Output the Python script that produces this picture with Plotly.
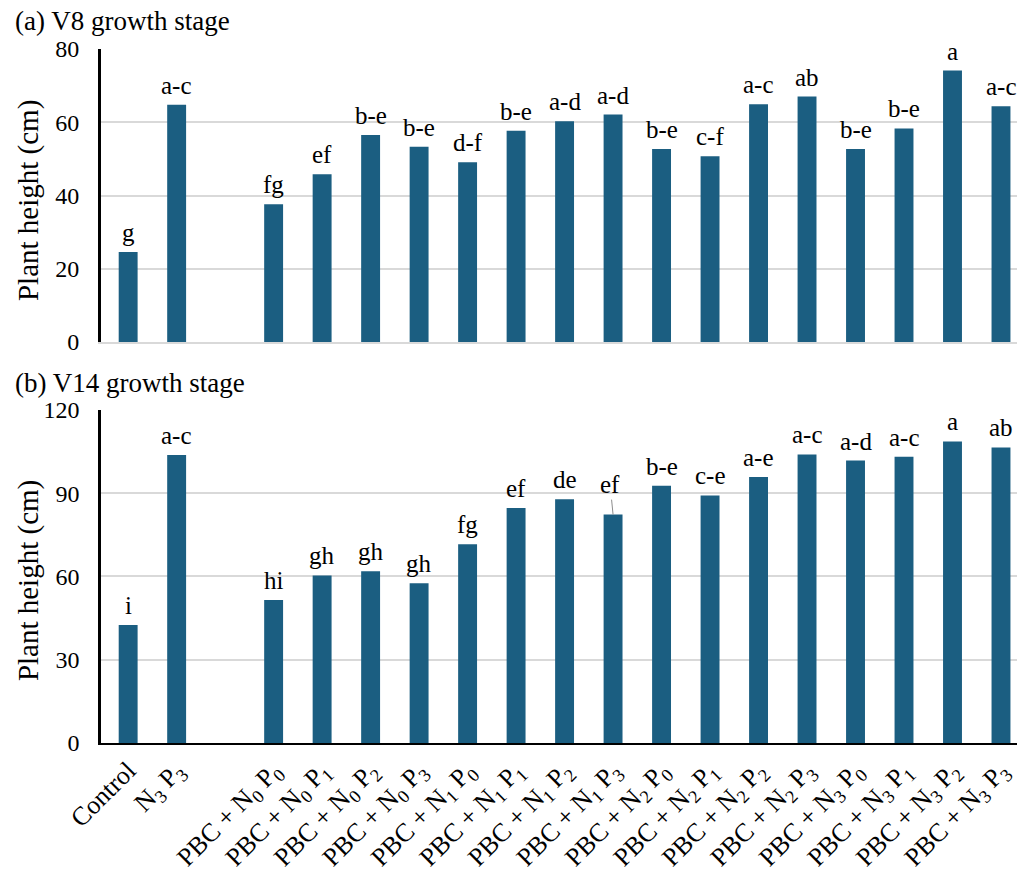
import plotly.graph_objects as go

# Treatments (x categories); a blank slot separates the reference treatments from the PBC ones
treatments = [
    "Control", "N<sub>3</sub> P<sub>3</sub>",
    "PBC + N<sub>0</sub> P<sub>0</sub>", "PBC + N<sub>0</sub> P<sub>1</sub>",
    "PBC + N<sub>0</sub> P<sub>2</sub>", "PBC + N<sub>0</sub> P<sub>3</sub>",
    "PBC + N<sub>1</sub> P<sub>0</sub>", "PBC + N<sub>1</sub> P<sub>1</sub>",
    "PBC + N<sub>1</sub> P<sub>2</sub>", "PBC + N<sub>1</sub> P<sub>3</sub>",
    "PBC + N<sub>2</sub> P<sub>0</sub>", "PBC + N<sub>2</sub> P<sub>1</sub>",
    "PBC + N<sub>2</sub> P<sub>2</sub>", "PBC + N<sub>2</sub> P<sub>3</sub>",
    "PBC + N<sub>3</sub> P<sub>0</sub>", "PBC + N<sub>3</sub> P<sub>1</sub>",
    "PBC + N<sub>3</sub> P<sub>2</sub>", "PBC + N<sub>3</sub> P<sub>3</sub>",
]
spacer = " "

# Plant height (cm) at V8
height_v8 = [24.6, 64.8, 37.6, 45.8, 56.5, 53.3, 49.1, 57.7, 60.3, 62.1,
             52.7, 50.7, 64.9, 67.0, 52.7, 58.3, 74.1, 64.4]
letters_v8 = ["g", "a-c", "fg", "ef", "b-e", "b-e", "d-f", "b-e", "a-d", "a-d",
              "b-e", "c-f", "a-c", "ab", "b-e", "b-e", "a", "a-c"]

# Plant height (cm) at V14
height_v14 = [42.5, 103.8, 51.5, 60.4, 61.9, 57.6, 71.6, 84.7, 87.8, 82.3,
              92.7, 89.2, 95.9, 104.0, 101.8, 103.2, 108.7, 106.5]
letters_v14 = ["i", "a-c", "hi", "gh", "gh", "gh", "fg", "ef", "de", "ef",
               "b-e", "c-e", "a-e", "a-c", "a-d", "a-c", "a", "ab"]

# label that sits higher with a leader line (V14, PBC + N1 P3)
leader_index_v14 = 9

BAR = "#1b5e81"
FONT = "'Liberation Serif', 'Times New Roman', Times, serif"
GRID = "#d9d9d9"

cat_order = treatments[:2] + [spacer] + treatments[2:]

fig = go.Figure()
fig.add_trace(go.Bar(x=treatments, y=height_v8, marker_color=BAR, width=0.39,
                     xaxis="x", yaxis="y", showlegend=False))
fig.add_trace(go.Bar(x=treatments, y=height_v14, marker_color=BAR, width=0.39,
                     xaxis="x2", yaxis="y2", showlegend=False))
# empty slot between the two groups
fig.add_trace(go.Bar(x=[spacer], y=[None], xaxis="x", yaxis="y", showlegend=False))
fig.add_trace(go.Bar(x=[spacer], y=[None], xaxis="x2", yaxis="y2", showlegend=False))

annotations = []
for t, h, lab in zip(treatments, height_v8, letters_v8):
    annotations.append(dict(x=t, y=h, xref="x", yref="y", text=lab, showarrow=False,
                            yanchor="bottom", yshift=4,
                            font=dict(family=FONT, size=25, color="black")))
for i, (t, h, lab) in enumerate(zip(treatments, height_v14, letters_v14)):
    if i == leader_index_v14:
        annotations.append(dict(x=t, y=h, xref="x2", yref="y2", text=lab, showarrow=True,
                                arrowhead=0, arrowwidth=1, arrowcolor="#8c8c8c",
                                ax=-3, ay=-30, standoff=0,
                                font=dict(family=FONT, size=25, color="black")))
    else:
        annotations.append(dict(x=t, y=h, xref="x2", yref="y2", text=lab, showarrow=False,
                                yanchor="bottom", yshift=4,
                                font=dict(family=FONT, size=25, color="black")))

# panel titles
annotations.append(dict(x=-0.0961, y=0.976, xref="paper", yref="paper", xanchor="left",
                        yanchor="middle", showarrow=False, text="(a) V8 growth stage",
                        font=dict(family=FONT, size=27, color="black")))
annotations.append(dict(x=-0.0961, y=0.5623, xref="paper", yref="paper", xanchor="left",
                        yanchor="middle", showarrow=False, text="(b) V14 growth stage",
                        font=dict(family=FONT, size=27, color="black")))
# y-axis titles
for yc in (0.7714, 0.337):
    annotations.append(dict(x=-0.0797, y=yc, xref="paper", yref="paper", xanchor="center",
                            yanchor="middle", showarrow=False, text="Plant height (cm)",
                            textangle=-90, font=dict(family=FONT, size=29, color="black")))

xcommon = dict(type="category", categoryorder="array", categoryarray=cat_order,
               range=[-0.56, 18.33], ticks="", automargin=False, showgrid=False,
               zeroline=False)

fig.update_layout(
    width=1017, height=875,
    margin=dict(l=101, r=0, t=0, b=0),
    paper_bgcolor="white", plot_bgcolor="white",
    template="none",
    bargap=0.6,
    font=dict(family=FONT, color="black"),
    xaxis=dict(domain=[0, 1], anchor="y", showticklabels=False,
               showline=True, linecolor=GRID, linewidth=1.5, **xcommon),
    xaxis2=dict(domain=[0, 1], anchor="y2", showticklabels=True, tickangle=-45,
                tickfont=dict(family=FONT, size=26, color="black"),
                ticklabelstandoff=0,
                showline=True, linecolor="black", linewidth=2, **xcommon),
    yaxis=dict(domain=[0.6091, 0.944], anchor="x", range=[0, 80], dtick=20,
               showgrid=True, gridcolor=GRID, gridwidth=1.5, zeroline=False,
               showline=True, linecolor="black", linewidth=3, ticks="",
               ticklabelstandoff=14, automargin=False,
               tickfont=dict(family=FONT, size=24, color="black")),
    yaxis2=dict(domain=[0.1509, 0.5314], anchor="x2", range=[0, 120], dtick=30,
                showgrid=True, gridcolor=GRID, gridwidth=1.5, zeroline=False,
                showline=True, linecolor="black", linewidth=2.5, ticks="",
                ticklabelstandoff=14, automargin=False,
                tickfont=dict(family=FONT, size=24, color="black")),
    annotations=annotations,
)

fig.write_html("out.html")
